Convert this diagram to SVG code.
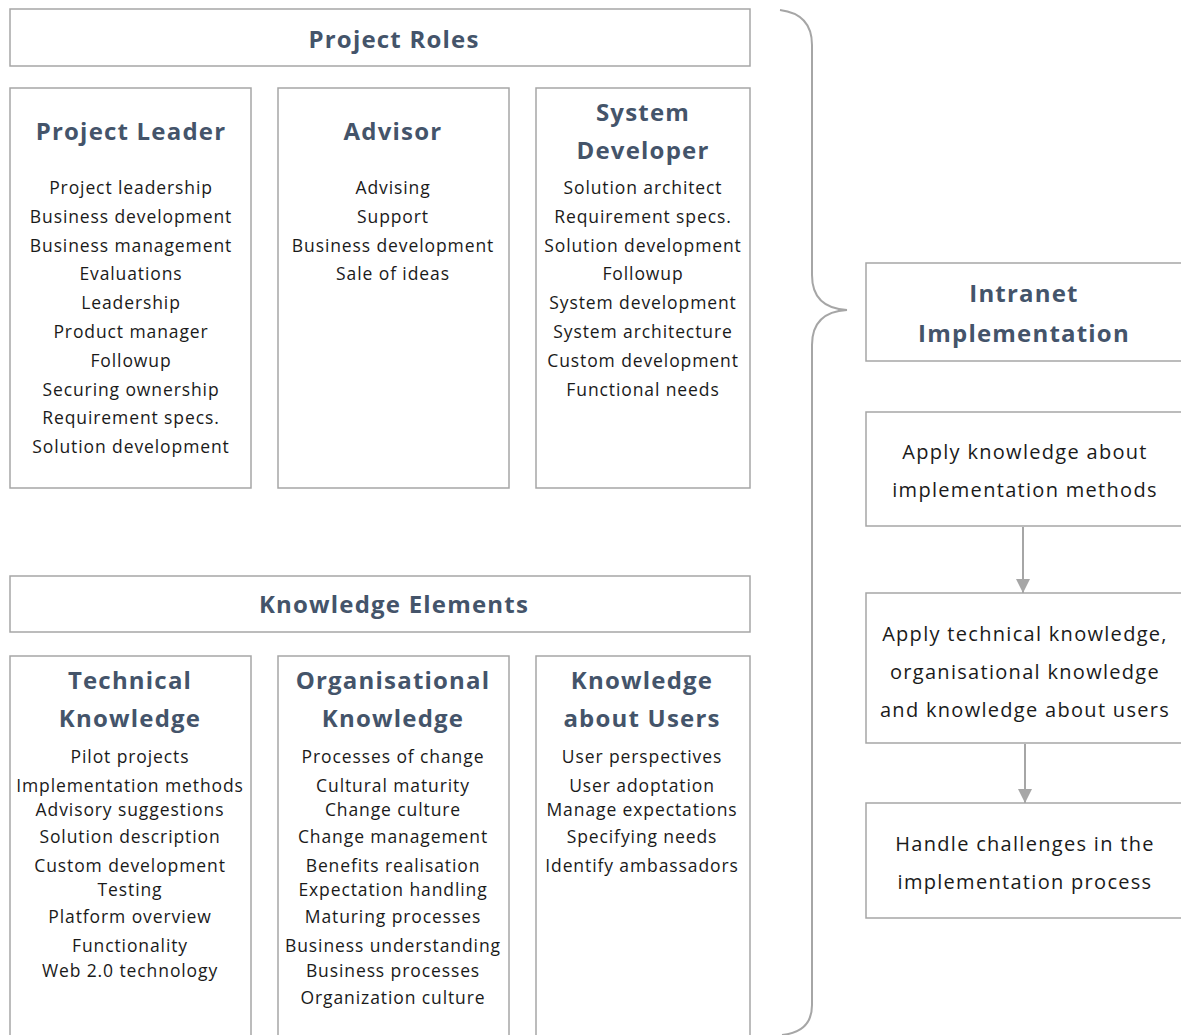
<svg xmlns="http://www.w3.org/2000/svg" width="1181" height="1035" viewBox="0 0 1181 1035">
<defs>
<style>
.box{fill:#fff;stroke:#a6a6a6;stroke-width:1.5}
.hd{font-family:"Open Sans","Liberation Sans",sans-serif;font-weight:bold;font-size:24px;letter-spacing:1.2px;fill:#44546a;text-anchor:middle}
.it{font-family:"Open Sans","Liberation Sans",sans-serif;font-size:17.5px;letter-spacing:0.9px;fill:#1a1a1a;text-anchor:middle}
.st{font-family:"Open Sans","Liberation Sans",sans-serif;font-size:20px;letter-spacing:1.3px;fill:#1a1a1a;text-anchor:middle}
.con{fill:none;stroke:#a6a6a6;stroke-width:2}
</style>
<marker id="ah" viewBox="0 0 10 10" markerWidth="14" markerHeight="14" refX="10" refY="5" orient="auto" markerUnits="userSpaceOnUse">
<path d="M0,0 L10,5 L0,10 Z" fill="#a6a6a6"/>
</marker>
</defs>
<rect width="1181" height="1035" fill="#fff"/>

<g id="project-roles"><rect class="box" x="10" y="9" width="740" height="57"/><text class="hd" x="394" y="48">Project Roles</text></g>

<g id="project-leader"><rect class="box" x="10" y="88" width="241" height="400"/>
<text class="hd" x="131" y="140">Project Leader</text>
<text class="it" x="131" y="194">Project leadership</text>
<text class="it" x="131" y="223">Business development</text>
<text class="it" x="131" y="252">Business management</text>
<text class="it" x="131" y="280">Evaluations</text>
<text class="it" x="131" y="309">Leadership</text>
<text class="it" x="131" y="338">Product manager</text>
<text class="it" x="131" y="367">Followup</text>
<text class="it" x="131" y="396">Securing ownership</text>
<text class="it" x="131" y="424">Requirement specs.</text>
<text class="it" x="131" y="453">Solution development</text>
</g>

<g id="advisor"><rect class="box" x="278" y="88" width="231" height="400"/>
<text class="hd" x="393" y="140">Advisor</text>
<text class="it" x="393" y="194">Advising</text>
<text class="it" x="393" y="223">Support</text>
<text class="it" x="393" y="252">Business development</text>
<text class="it" x="393" y="280">Sale of ideas</text>
</g>

<g id="system-developer"><rect class="box" x="536" y="88" width="214" height="400"/>
<text class="hd" x="643" y="121">System</text>
<text class="hd" x="643" y="159">Developer</text>
<text class="it" x="643" y="194">Solution architect</text>
<text class="it" x="643" y="223">Requirement specs.</text>
<text class="it" x="643" y="252">Solution development</text>
<text class="it" x="643" y="280">Followup</text>
<text class="it" x="643" y="309">System development</text>
<text class="it" x="643" y="338">System architecture</text>
<text class="it" x="643" y="367">Custom development</text>
<text class="it" x="643" y="396">Functional needs</text>
</g>

<g id="knowledge-elements"><rect class="box" x="10" y="576" width="740" height="56"/><text class="hd" x="394" y="613">Knowledge Elements</text></g>

<g id="technical-knowledge"><rect class="box" x="10" y="656" width="241" height="390"/>
<text class="hd" x="130" y="689">Technical</text>
<text class="hd" x="130" y="727">Knowledge</text>
<text class="it" x="130" y="763">Pilot projects</text>
<text class="it" x="130" y="792">Implementation methods</text>
<text class="it" x="130" y="816">Advisory suggestions</text>
<text class="it" x="130" y="843">Solution description</text>
<text class="it" x="130" y="872">Custom development</text>
<text class="it" x="130" y="896">Testing</text>
<text class="it" x="130" y="923">Platform overview</text>
<text class="it" x="130" y="952">Functionality</text>
<text class="it" x="130" y="977">Web 2.0 technology</text>
</g>

<g id="organisational-knowledge"><rect class="box" x="278" y="656" width="231" height="390"/>
<text class="hd" x="393" y="689">Organisational</text>
<text class="hd" x="393" y="727">Knowledge</text>
<text class="it" x="393" y="763">Processes of change</text>
<text class="it" x="393" y="792">Cultural maturity</text>
<text class="it" x="393" y="816">Change culture</text>
<text class="it" x="393" y="843">Change management</text>
<text class="it" x="393" y="872">Benefits realisation</text>
<text class="it" x="393" y="896">Expectation handling</text>
<text class="it" x="393" y="923">Maturing processes</text>
<text class="it" x="393" y="952">Business understanding</text>
<text class="it" x="393" y="977">Business processes</text>
<text class="it" x="393" y="1004">Organization culture</text>
</g>

<g id="knowledge-about-users"><rect class="box" x="536" y="656" width="214" height="390"/>
<text class="hd" x="642" y="689">Knowledge</text>
<text class="hd" x="642" y="727">about Users</text>
<text class="it" x="642" y="763">User perspectives</text>
<text class="it" x="642" y="792">User adoptation</text>
<text class="it" x="642" y="816">Manage expectations</text>
<text class="it" x="642" y="843">Specifying needs</text>
<text class="it" x="642" y="872">Identify ambassadors</text>
</g>

<g id="intranet-implementation"><rect class="box" x="866" y="263" width="320" height="98"/>
<text class="hd" x="1024" y="302">Intranet</text>
<text class="hd" x="1024" y="342">Implementation</text>
</g>

<g id="apply-methods"><rect class="box" x="866" y="412" width="320" height="114"/>
<text class="st" x="1025" y="459">Apply knowledge about</text>
<text class="st" x="1025" y="497">implementation methods</text>
</g>

<g id="apply-knowledge"><rect class="box" x="866" y="593" width="320" height="150"/>
<text class="st" x="1025" y="641">Apply technical knowledge,</text>
<text class="st" x="1025" y="679">organisational knowledge</text>
<text class="st" x="1025" y="717">and knowledge about users</text>
</g>

<g id="handle-challenges"><rect class="box" x="866" y="803" width="320" height="115"/>
<text class="st" x="1025" y="851">Handle challenges in the</text>
<text class="st" x="1025" y="889">implementation process</text>
</g>

<g id="connectors">
<path class="con" stroke-width="2.5" d="M780,10 Q812,14 812,45 L812,275 Q812,308 847,310 Q812,312 812,345 L812,1005 Q812,1032 782,1035"/>
<line class="con" x1="1023" y1="527" x2="1023" y2="593" marker-end="url(#ah)"/>
<line class="con" x1="1025" y1="744" x2="1025" y2="803" marker-end="url(#ah)"/>
</g>
</svg>
